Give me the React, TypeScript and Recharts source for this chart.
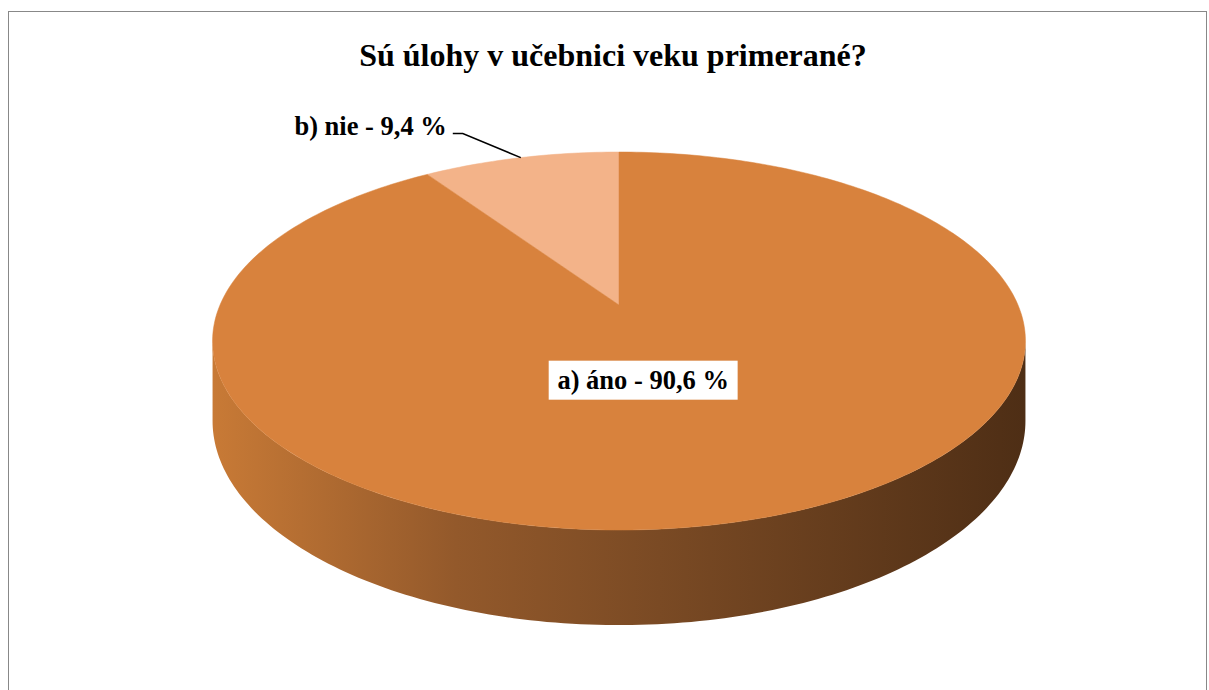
import { Cell, Pie, PieChart } from "recharts";

const title = "Sú úlohy v učebnici veku primerané?";
const categories = ["b) nie", "a) áno"];
const percents = [9.4, 90.6];
const colors = ["#F3B389", "#D8823D"];

const data = categories.map((name, i) => ({ name, value: percents[i] }));

// fake 3d: perspective tilt, vertical squash and side depth
const TILT = 0.1905;
const SQUASH = 0.4565;
const DEPTH = 77;
const SIL = (Math.asin(TILT) * 180) / Math.PI; // silhouette angle below horizon
const FONT = "'Liberation Serif', 'Times New Roman', serif";

const project = (
  cx: number,
  cy: number,
  r: number,
  angle: number,
  frac = 1,
  drop = 0
): [number, number] => {
  const rad = (angle * Math.PI) / 180;
  const u = frac * Math.cos(rad);
  const v = -frac * Math.sin(rad);
  const den = 1 - TILT * v;
  return [cx + (r * u) / den, cy + (r * SQUASH * v + drop) / den];
};

const arcPts = (cx: number, cy: number, r: number, a0: number, a1: number, drop = 0) => {
  const pts: [number, number][] = [];
  const n = Math.max(2, Math.ceil(Math.abs(a1 - a0)));
  for (let i = 0; i <= n; i++) {
    pts.push(project(cx, cy, r, a0 + ((a1 - a0) * i) / n, 1, drop));
  }
  return pts;
};

const toPath = (pts: [number, number][]) =>
  pts.map((p, i) => `${i ? "L" : "M"}${p[0].toFixed(2)},${p[1].toFixed(2)}`).join(" ");

const Slice3D = (props: any) => {
  const { cx, cy, outerRadius, startAngle, endAngle, fill } = props;
  const s = Math.min(startAngle, endAngle);
  const e = Math.max(startAngle, endAngle);
  const visLo = 180 + SIL;
  const visHi = 360 - SIL;
  const sides: string[] = [];
  for (let k = -1; k <= 1; k++) {
    const lo = Math.max(s, visLo + 360 * k);
    const hi = Math.min(e, visHi + 360 * k);
    if (lo < hi) {
      const top = arcPts(cx, cy, outerRadius, lo, hi);
      const bottom = arcPts(cx, cy, outerRadius, hi, lo, DEPTH);
      sides.push(toPath([...top, ...bottom]) + " Z");
    }
  }
  const [lx] = project(cx, cy, outerRadius, visLo);
  const [rx] = project(cx, cy, outerRadius, visHi);
  const top = [[cx, cy] as [number, number], ...arcPts(cx, cy, outerRadius, s, e)];
  return (
    <g>
      <defs>
        <linearGradient id="sideGrad" gradientUnits="userSpaceOnUse" x1={lx} y1={0} x2={rx} y2={0}>
          <stop offset="0%" stopColor="#C87A36" />
          <stop offset="30%" stopColor="#93592B" />
          <stop offset="55%" stopColor="#7A4A24" />
          <stop offset="100%" stopColor="#4E2E15" />
        </linearGradient>
      </defs>
      {sides.map((d, i) => (
        <path key={i} d={d} fill="url(#sideGrad)" stroke="none" />
      ))}
      <path d={toPath(top) + " Z"} fill={fill} stroke={fill} strokeWidth={0.5} />
    </g>
  );
};

const fmt = (v: number) => `${v.toString().replace(".", ",")} %`;

const renderLabel = (props: any) => {
  const { cx, cy, midAngle, outerRadius, name, value, percent } = props;
  const text = `${name} - ${fmt(value)}`;
  const fontSize = 26.5;
  if (percent < 0.5) {
    const [ex, ey] = project(cx, cy, outerRadius, midAngle, 1);
    const bx = ex - 58;
    const by = ey - 24;
    const tx = bx - 10;
    return (
      <g>
        <polyline
          points={`${ex},${ey} ${bx},${by} ${tx},${by}`}
          fill="none"
          stroke="#000"
          strokeWidth={1.5}
        />
        <text
          x={tx - 6}
          y={by + 1}
          textAnchor="end"
          fontFamily={FONT}
          fontWeight="bold"
          fontSize={fontSize}
          fill="#000"
        >
          {text}
        </text>
      </g>
    );
  }
  const [px, py] = project(cx, cy, outerRadius, midAngle, 0.4);
  const mx = px - 0.065 * outerRadius;
  const w = text.length * 0.42 * fontSize + 22;
  const h = 39;
  return (
    <g>
      <rect x={mx - w / 2} y={py - h / 2} width={w} height={h} fill="#fff" />
      <text
        x={mx}
        y={py + 9}
        textAnchor="middle"
        fontFamily={FONT}
        fontWeight="bold"
        fontSize={fontSize}
        fill="#000"
      >
        {text}
      </text>
    </g>
  );
};

export default function App() {
  return (
    <div
      style={{
        position: "fixed",
        left: 0,
        top: 0,
        width: 1209,
        height: 690,
        overflow: "hidden",
        background: "#fff",
      }}
    >
      <div
        style={{
          position: "absolute",
          left: 8,
          top: 11,
          width: 1197,
          height: 700,
          border: "1.5px solid #888",
        }}
      />
      <div
        style={{
          position: "absolute",
          left: 0,
          top: 37,
          width: 1226,
          textAlign: "center",
          fontFamily: FONT,
          fontWeight: "bold",
          fontSize: 32,
          lineHeight: "36px",
          color: "#000",
        }}
      >
        {title}
      </div>
      <div style={{ position: "absolute", left: 0, top: 0 }}>
        <PieChart width={1209} height={690} margin={{ top: 0, right: 0, bottom: 0, left: 0 }}>
          <Pie
            data={data}
            dataKey="value"
            nameKey="name"
            cx={619}
            cy={305}
            outerRadius={399}
            startAngle={90}
            endAngle={450}
            stroke="none"
            shape={Slice3D}
            label={renderLabel}
            labelLine={false}
            isAnimationActive={false}
          >
            {data.map((d, i) => (
              <Cell key={d.name} fill={colors[i]} />
            ))}
          </Pie>
        </PieChart>
      </div>
    </div>
  );
}
